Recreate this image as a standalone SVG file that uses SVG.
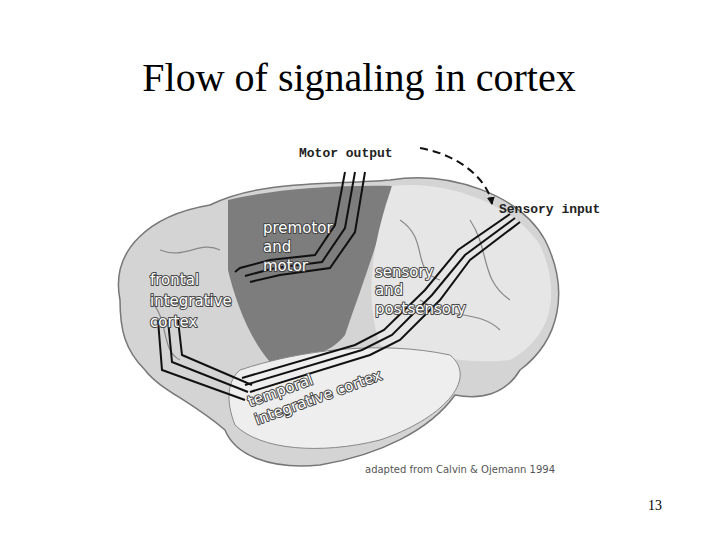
<svg xmlns="http://www.w3.org/2000/svg" width="720" height="540" viewBox="0 0 720 540">
<style>
.lab{font-family:"DejaVu Sans",sans-serif;font-size:15px;fill:#fff;stroke:#444;stroke-width:2;stroke-linejoin:round;paint-order:stroke}
.mono{font-family:"Liberation Mono",monospace;font-weight:bold;font-size:13px;fill:#222}
.tr{fill:none;stroke:#111;stroke-width:2}
.g{fill:none;stroke:#888;stroke-width:1.2}
</style>
<defs><marker id="ah" markerWidth="8" markerHeight="8" refX="7" refY="4" orient="auto" markerUnits="userSpaceOnUse"><path d="M0,0 L8,4 L0,8 z" fill="#111"/></marker></defs>
<rect width="720" height="540" fill="#fff"/>
<text x="359" y="91" text-anchor="middle" font-family="Liberation Serif,serif" font-size="40">Flow of signaling in cortex</text>
<g id="brain">
<path d="M120,300 C110,250 150,215 210,205 C260,180 330,185 390,180 C450,170 520,195 545,240 C570,290 560,340 520,370 C505,395 480,400 455,395 C430,430 380,455 320,465 C270,470 235,455 225,430 C190,400 160,390 145,370 C125,350 120,330 120,300 Z" fill="#d4d4d4" stroke="#777" stroke-width="1.5"/>
<path d="M228,200 C270,190 330,185 392,186 C380,240 360,290 345,335 C330,355 300,360 270,362 C250,340 235,300 228,270 Z" fill="#7d7d7d"/>
<path d="M392,186 C440,180 510,200 540,245 C560,290 555,335 510,360 C470,365 420,355 380,345 C365,300 370,250 392,186 Z" fill="#e6e6e6"/>
<path d="M240,370 C300,350 380,340 450,355 C480,380 440,420 380,440 C320,455 260,450 235,425 C225,400 228,380 240,370 Z" fill="#eeeeee" stroke="#888"/>
<path class="g" d="M150,300 C170,320 160,350 180,360 M400,220 C430,240 410,270 440,280 M470,220 C490,250 480,280 510,300 M160,250 C185,260 200,240 220,250 M420,300 C450,320 480,310 500,330"/>
</g>
<g id="connectors">
<path class="tr" d="M345,172 L335,225 L315,255 L270,260 L240,268 L235,272"/>
<path class="tr" d="M355,172 L345,228 L322,262 L275,268 L245,276"/>
<path class="tr" d="M365,172 L355,232 L330,268 L280,275 L250,282"/>
<path class="tr" d="M520,222 L470,260 L440,300 L400,340 L370,355 L250,392"/>
<path class="tr" d="M515,218 L465,255 L432,295 L392,335 L362,350 L245,385"/>
<path class="tr" d="M510,214 L458,250 L425,290 L384,330 L355,345 L242,378"/>
<path class="tr" d="M158,320 L162,370 L245,400"/>
<path class="tr" d="M168,320 L172,362 L248,392"/>
<path class="tr" d="M178,320 L182,355 L252,385"/>
<path d="M420,148 C460,155 488,180 492,204" fill="none" stroke="#111" stroke-width="2" stroke-dasharray="8,5" marker-end="url(#ah)"/>
</g>
<g id="labels">
<text class="mono" x="299" y="157">Motor output</text>
<text class="mono" x="499" y="213">Sensory input</text>
<text class="lab" x="263" y="233">premotor</text>
<text class="lab" x="263" y="252">and</text>
<text class="lab" x="263" y="271">motor</text>
<text class="lab" x="150" y="285">frontal</text>
<text class="lab" x="150" y="306">integrative</text>
<text class="lab" x="150" y="327">cortex</text>
<text class="lab" x="375" y="277">sensory</text>
<text class="lab" x="375" y="295">and</text>
<text class="lab" x="375" y="314">postsensory</text>
<text class="lab" transform="translate(250,407) rotate(-20)">temporal</text>
<text class="lab" transform="translate(257,425) rotate(-20)">integrative cortex</text>
<text x="365" y="473" font-family="DejaVu Sans,sans-serif" font-size="10" fill="#555">adapted from Calvin &amp; Ojemann 1994</text>
<text x="648" y="510" font-family="Liberation Serif,serif" font-size="14">13</text>
</g>
</svg>
